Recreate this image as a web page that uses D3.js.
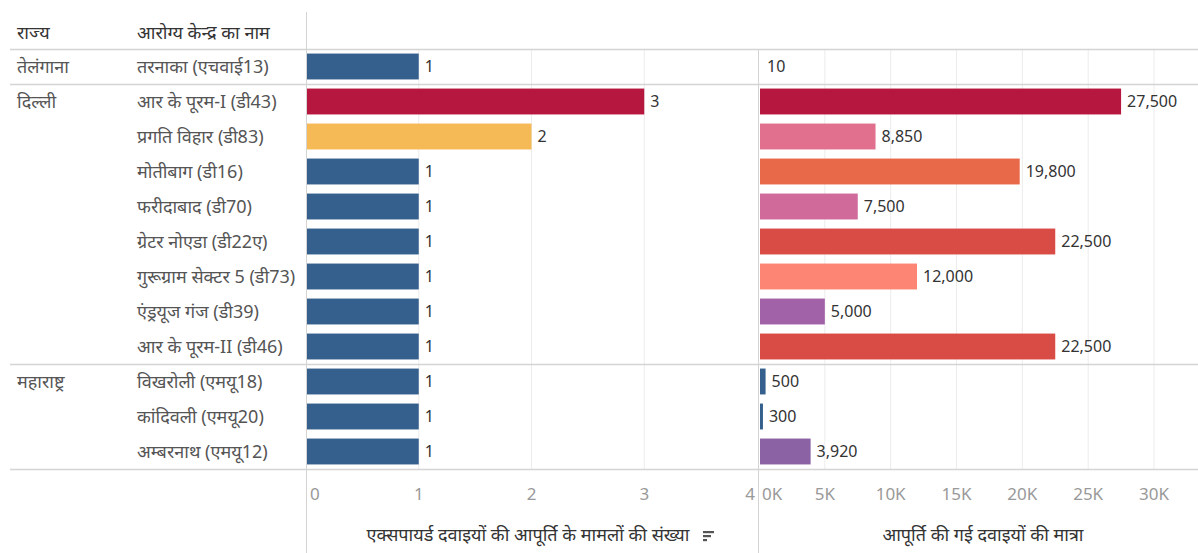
<!DOCTYPE html>
<html><head><meta charset="utf-8">
<script src="https://cdn.jsdelivr.net/npm/d3@7"></script>
<style>
body{margin:0;background:#fff;}
text{font-family:"Noto Sans","Noto Sans Devanagari","Lato",sans-serif;}
</style></head>
<body><svg id="c" width="1198" height="553"></svg>
<script>
const states = ["तेलंगाना","दिल्ली","महाराष्ट्र"];
const stateOf = ["तेलंगाना","दिल्ली","दिल्ली","दिल्ली","दिल्ली","दिल्ली","दिल्ली","दिल्ली","दिल्ली","महाराष्ट्र","महाराष्ट्र","महाराष्ट्र"];
const centers = ["तरनाका (एचवाई13)","आर के पूरम-I (डी43)","प्रगति विहार  (डी83)","मोतीबाग (डी16)","फरीदाबाद (डी70)","ग्रेटर नोएडा (डी22ए)","गुरूग्राम सेक्टर 5 (डी73)","एंड्रयूज गंज (डी39)","आर के पूरम-II (डी46)","विखरोली (एमयू18)","कांदिवली (एमयू20)","अम्बरनाथ (एमयू12)"];
const cases = [1,3,2,1,1,1,1,1,1,1,1,1];
const quantities = [10,27500,8850,19800,7500,22500,12000,5000,22500,500,300,3920];
const caseTicks = [0,1,2,3,4];
const qtyTicks = [0,5000,10000,15000,20000,25000,30000];
const headers = ["राज्य","आरोग्य केन्द्र का नाम"];
const axisTitles = ["एक्सपायर्ड दवाइयों की आपूर्ति के मामलों की संख्या","आपूर्ति की गई दवाइयों की मात्रा"];

const caseColors = ["#35608d","#b5173f","#f5b955","#35608d","#35608d","#35608d","#35608d","#35608d","#35608d","#35608d","#35608d","#35608d"];
const qtyColors = ["#35608d","#b5173f","#e0708e","#e8684a","#cf6a9a","#d94c45","#fc8574","#a262a7","#d94c45","#35608d","#35608d","#8b62a3"];

const svg = d3.select("#c");
const top0 = 49, rowH = 35;
const y = d3.scaleBand().domain(d3.range(centers.length)).range([top0, top0 + rowH*centers.length]).paddingInner(0.26).paddingOuter(0.13);
const xL = d3.scaleLinear().domain([0,4]).range([306,757]);
const xR = d3.scaleLinear().domain([0,30000]).range([759,1154]);
const bottom = top0 + rowH*centers.length;
const labelSize = 18;

// gridlines
svg.append("g").selectAll("line").data(caseTicks.slice(1,4)).join("line")
  .attr("x1",d=>xL(d)).attr("x2",d=>xL(d)).attr("y1",top0).attr("y2",bottom)
  .attr("stroke","#ececec");
svg.append("g").selectAll("line").data(qtyTicks.slice(1)).join("line")
  .attr("x1",d=>xR(d)).attr("x2",d=>xR(d)).attr("y1",top0).attr("y2",bottom)
  .attr("stroke","#ececec");

// horizontal separators
const groupEnds = [top0];
let idx=0;
states.forEach(s=>{ idx += stateOf.filter(v=>v===s).length; groupEnds.push(top0+rowH*idx); });
svg.append("g").selectAll("line").data(groupEnds).join("line")
  .attr("x1",10).attr("x2",1198).attr("y1",d=>d+0.5).attr("y2",d=>d+0.5)
  .attr("stroke","#d4d4d4").attr("stroke-width",1.5);

// vertical axis lines
svg.append("line").attr("x1",306.5).attr("x2",306.5).attr("y1",12).attr("y2",553).attr("stroke","#d4d4d4");
svg.append("line").attr("x1",758.5).attr("x2",758.5).attr("y1",top0).attr("y2",553).attr("stroke","#d4d4d4");

// headers
svg.append("text").attr("x",17).attr("y",39).attr("font-size",labelSize).attr("fill","#333").text(headers[0]);
svg.append("text").attr("x",137).attr("y",39).attr("font-size",labelSize).attr("fill","#333").text(headers[1]);

// state labels
let start=0;
states.forEach(s=>{
  svg.append("text").attr("x",17).attr("y",y(start)+y.bandwidth()/2).attr("dy","0.35em")
    .attr("font-size",labelSize).attr("fill","#555").text(s);
  start += stateOf.filter(v=>v===s).length;
});

// center labels
svg.append("g").selectAll("text").data(centers).join("text")
  .attr("x",137).attr("y",(d,i)=>y(i)+y.bandwidth()/2).attr("dy","0.35em")
  .attr("font-size",labelSize).attr("fill","#555").text(d=>d);

// left bars
svg.append("g").selectAll("rect").data(cases).join("rect")
  .attr("x",xL(0)+1).attr("y",(d,i)=>y(i)).attr("height",y.bandwidth())
  .attr("width",d=>xL(d)-xL(0)-1).attr("fill",(d,i)=>caseColors[i]);
svg.append("g").selectAll("text").data(cases).join("text")
  .attr("x",d=>xL(d)+6).attr("y",(d,i)=>y(i)+y.bandwidth()/2).attr("dy","0.35em")
  .attr("font-size",16).attr("fill","#333").text(d=>d3.format(",")(d));

// right bars
svg.append("g").selectAll("rect").data(quantities).join("rect")
  .attr("x",xR(0)+1).attr("y",(d,i)=>y(i)).attr("height",y.bandwidth())
  .attr("width",d=>Math.max(0,xR(d)-xR(0)-1)).attr("fill",(d,i)=>qtyColors[i]);
svg.append("g").selectAll("text").data(quantities).join("text")
  .attr("x",d=>Math.max(xR(d),xR(0)+2)+6).attr("y",(d,i)=>y(i)+y.bandwidth()/2).attr("dy","0.35em")
  .attr("font-size",16).attr("fill","#333").text(d=>d3.format(",")(d));

// tick labels
svg.append("g").selectAll("text").data(caseTicks).join("text")
  .attr("x",(d,i)=> i===0 ? xL(d)+4 : (i===caseTicks.length-1 ? xL(d)-2 : xL(d)))
  .attr("text-anchor",(d,i)=> i===0 ? "start" : (i===caseTicks.length-1 ? "end" : "middle"))
  .attr("y",500).attr("font-size",17).attr("fill","#999").text(d=>d);
svg.append("g").selectAll("text").data(qtyTicks).join("text")
  .attr("x",(d,i)=> i===0 ? xR(d)+3 : xR(d))
  .attr("text-anchor",(d,i)=> i===0 ? "start" : "middle")
  .attr("y",500).attr("font-size",17).attr("fill","#999").text(d=>(d/1000)+"K");

// axis titles
svg.append("text").attr("x",528).attr("y",541).attr("text-anchor","middle").attr("font-size",18).attr("fill","#333").text(axisTitles[0]);
svg.append("text").attr("x",983).attr("y",541).attr("text-anchor","middle").attr("font-size",18).attr("fill","#333").text(axisTitles[1]);

// sort icon
const icon = svg.append("g").attr("transform","translate(703,531)");
[11,8,4].forEach((w,i)=>icon.append("rect").attr("x",0).attr("y",i*4).attr("width",w).attr("height",2.2).attr("fill","#555"));
</script></body></html>
